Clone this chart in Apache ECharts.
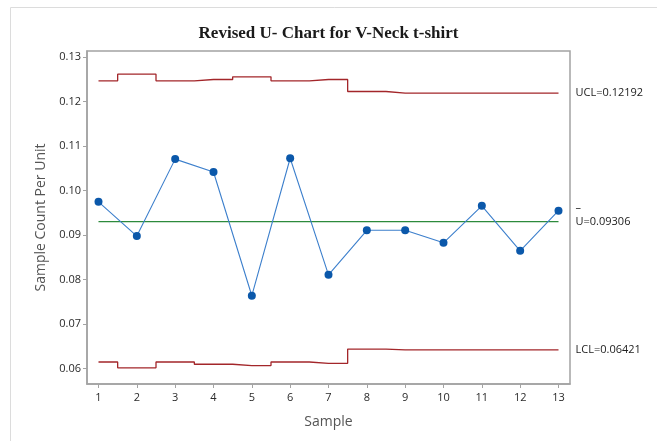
<!DOCTYPE html>
<html>
<head>
<meta charset="utf-8">
<script src="https://cdn.jsdelivr.net/npm/echarts@6/dist/echarts.min.js"></script>
<style>
  html, body { margin: 0; padding: 0; background: #fff; }
  #chart { width: 657px; height: 441px; }
</style>
</head>
<body>
<div id="chart"></div>
<script>
// 샘플 번호
const samples = [1, 2, 3, 4, 5, 6, 7, 8, 9, 10, 11, 12, 13];
// 단위당 결점 수 (u)
const uValues = [0.0975, 0.0898, 0.1071, 0.1042, 0.0764, 0.1073, 0.0811, 0.0911, 0.0911, 0.0883, 0.0966, 0.0865, 0.0955];
// 관리 한계 (샘플별)
const uclValues = [0.1247, 0.1262, 0.1247, 0.1250, 0.1256, 0.1247, 0.1250, 0.1223, 0.12192, 0.12192, 0.12192, 0.12192, 0.12192];
const lclValues = [0.0615, 0.0602, 0.0615, 0.0610, 0.0607, 0.0615, 0.0612, 0.0644, 0.06421, 0.06421, 0.06421, 0.06421, 0.06421];
const centerLine = 0.09306;
const yTicks = [0.06, 0.07, 0.08, 0.09, 0.10, 0.11, 0.12, 0.13];

const sansFont = '"Open Sans", "Noto Sans", sans-serif';
const axisGrey = '#a3a3a3';
const limitRed = '#a3262a';

const chart = echarts.init(document.getElementById('chart'));

const pair = (vals) => samples.map((s, i) => [s, vals[i]]);

chart.setOption({
  animation: false,
  title: {
    text: 'Revised U- Chart for V-Neck t-shirt',
    left: 'center',
    top: 20,
    textStyle: {
      fontFamily: '"Liberation Serif", "Times New Roman", serif',
      fontWeight: 'bold',
      fontSize: 17,
      color: '#1a1a1a'
    }
  },
  graphic: [{
    type: 'rect',
    shape: { x: 10.5, y: 7.5, width: 700, height: 500 },
    style: { fill: 'none', stroke: '#dcdcdc', lineWidth: 1 },
    silent: true
  }],
  grid: {
    left: 87,
    right: 87,
    top: 51,
    bottom: 57,
    show: true,
    borderColor: axisGrey,
    borderWidth: 1.5
  },
  xAxis: {
    type: 'value',
    min: 0.7,
    max: 13.3,
    name: 'Sample',
    nameLocation: 'middle',
    nameGap: 31,
    nameTextStyle: { fontFamily: sansFont, fontSize: 14, color: '#555' },
    axisLine: { lineStyle: { color: axisGrey, width: 1.5 } },
    axisTick: { customValues: samples, length: 4, lineStyle: { color: axisGrey } },
    axisLabel: { customValues: samples, fontFamily: sansFont, fontSize: 11, color: '#2a2a2a', margin: 8 },
    splitLine: { show: false }
  },
  yAxis: {
    type: 'value',
    min: 0.05656,
    max: 0.1314,
    name: 'Sample Count Per Unit',
    nameLocation: 'middle',
    nameGap: 35,
    nameTextStyle: { fontFamily: sansFont, fontSize: 14, color: '#555' },
    axisLine: { show: true, lineStyle: { color: axisGrey, width: 1.5 } },
    axisTick: { show: true, customValues: yTicks, length: 4, lineStyle: { color: axisGrey } },
    axisLabel: {
      customValues: yTicks,
      fontFamily: sansFont,
      fontSize: 11,
      color: '#2a2a2a',
      margin: 6,
      formatter: (v) => v.toFixed(2)
    },
    splitLine: { show: false }
  },
  series: [
    {
      name: 'UCL',
      type: 'line',
      step: 'middle',
      data: pair(uclValues),
      showSymbol: false,
      lineStyle: { color: limitRed, width: 1.3 },
      endLabel: {
        show: true,
        distance: 17,
        fontFamily: sansFont,
        fontSize: 11,
        color: '#222',
        formatter: () => 'UCL=' + uclValues[uclValues.length - 1]
      }
    },
    {
      name: 'LCL',
      type: 'line',
      step: 'middle',
      data: pair(lclValues),
      showSymbol: false,
      lineStyle: { color: limitRed, width: 1.3 },
      endLabel: {
        show: true,
        distance: 17,
        fontFamily: sansFont,
        fontSize: 11,
        color: '#222',
        formatter: () => 'LCL=' + lclValues[lclValues.length - 1]
      }
    },
    {
      name: 'Center',
      type: 'line',
      data: [[samples[0], centerLine], [samples[samples.length - 1], centerLine]],
      showSymbol: false,
      lineStyle: { color: '#2d8a3c', width: 1.2 },
      endLabel: {
        show: true,
        distance: 17,
        offset: [0, -7],
        fontFamily: sansFont,
        fontSize: 11,
        lineHeight: 14,
        color: '#222',
        formatter: () => '–\nU=' + centerLine
      }
    },
    {
      name: 'u',
      type: 'line',
      data: pair(uValues),
      symbol: 'circle',
      symbolSize: 8,
      lineStyle: { color: '#3c7fcc', width: 1.1 },
      itemStyle: { color: '#0b58aa' }
    }
  ]
});
</script>
</body>
</html>
